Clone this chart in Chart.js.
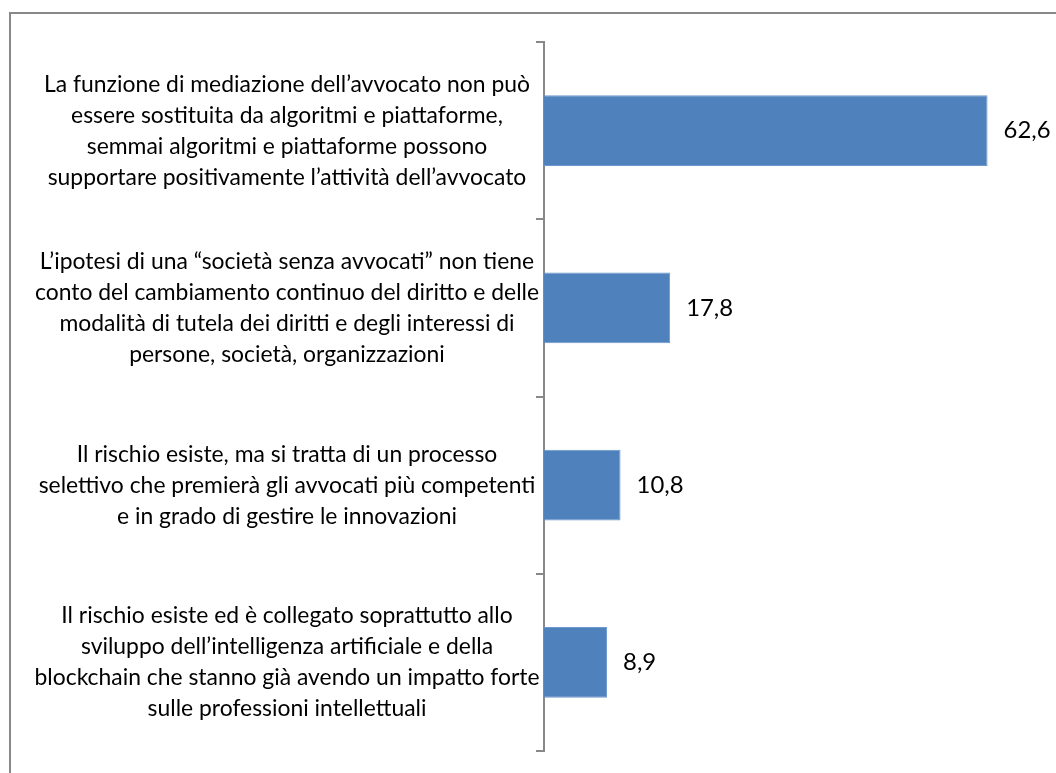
<!DOCTYPE html>
<html>
<head>
<meta charset="utf-8">
<script src="https://cdn.jsdelivr.net/npm/chart.js@4.4.0/dist/chart.umd.min.js"></script>
<style>
  html,body{margin:0;padding:0;background:#fff;width:1056px;height:773px;overflow:hidden;}
  #frame{position:absolute;left:9px;top:12px;width:1100px;height:800px;border-left:2px solid #888;border-top:2px solid #888;}
  #wrap{position:absolute;left:0;top:0;width:1056px;height:773px;}
</style>
</head>
<body>
<div id="frame"></div>
<div id="wrap"><canvas id="c" width="1056" height="773"></canvas></div>
<script>
const categories = [
  ["La funzione di mediazione dell’avvocato non può", "essere sostituita da algoritmi e piattaforme,", "semmai algoritmi e piattaforme possono", "supportare positivamente l’attività dell’avvocato"],
  ["L’ipotesi di una “società senza avvocati” non tiene", "conto del cambiamento continuo del diritto e delle", "modalità di tutela dei diritti e degli interessi di", "persone, società, organizzazioni"],
  ["Il rischio esiste, ma si tratta di un processo", "selettivo che premierà gli avvocati più competenti", "e in grado di gestire le innovazioni"],
  ["Il rischio esiste ed è collegato soprattutto allo", "sviluppo dell’intelligenza artificiale e della", "blockchain che stanno già avendo un impatto forte", "sulle professioni intellettuali"]
];
const values = [62.6, 17.8, 10.8, 8.9];
const axisMin = 0;
const axisMax = 70;

const FONT = 'Lato, "Liberation Sans", sans-serif';
// size the font so the widest label line matches the reference width
const mctx = document.createElement('canvas').getContext('2d');
mctx.font = '100px ' + FONT;
let widest100 = 0;
categories.forEach(lines => lines.forEach(l => { widest100 = Math.max(widest100, mctx.measureText(l).width); }));
const fontSize = Math.round(10 * 505 / (widest100 / 100)) / 10;
mctx.font = fontSize + 'px ' + FONT;
let widest = 0;
categories.forEach(lines => lines.forEach(l => { widest = Math.max(widest, mctx.measureText(l).width); }));
const tickLen = 8;
const labelCenter = 287;
const axisX = 544;
const labelPad = axisX - tickLen - labelCenter - widest / 2;

const valueLabels = {
  id: 'valueLabels',
  afterDatasetsDraw(chart) {
    const ctx = chart.ctx;
    const meta = chart.getDatasetMeta(0);
    ctx.save();
    ctx.font = (fontSize + 1) + 'px ' + FONT;
    ctx.fillStyle = '#000';
    ctx.textAlign = 'left';
    ctx.textBaseline = 'middle';
    meta.data.forEach((bar, i) => {
      const v = chart.data.datasets[0].data[i];
      ctx.fillText(v.toFixed(1).replace('.', ','), bar.x + 16, bar.y);
    });
    ctx.restore();
  }
};

new Chart(document.getElementById('c'), {
  type: 'bar',
  data: {
    labels: categories,
    datasets: [{
      data: values,
      backgroundColor: '#4F81BD',
      borderColor: '#6E98CC',
      borderWidth: 1,
      categoryPercentage: 1,
      barPercentage: 0.4
    }]
  },
  options: {
    indexAxis: 'y',
    responsive: false,
    animation: false,
    layout: { padding: { left: 0, right: 16, top: 42, bottom: 22 } },
    plugins: { legend: { display: false }, tooltip: { enabled: false } },
    scales: {
      x: { display: false, min: axisMin, max: axisMax },
      y: {
        afterFit(scale) { scale.width = axisX; scale.paddingTop = 0; scale.paddingBottom = 0; },
        grid: {
          offset: true,
          drawOnChartArea: false,
          drawTicks: true,
          tickLength: tickLen,
          color: '#888',
          lineWidth: 2
        },
        border: { display: true, color: '#888', width: 2 },
        ticks: {
          crossAlign: 'center',
          padding: labelPad,
          color: '#000',
          font: { family: FONT, size: fontSize, lineHeight: 31 / fontSize }
        }
      }
    }
  },
  plugins: [valueLabels]
});
</script>
</body>
</html>
